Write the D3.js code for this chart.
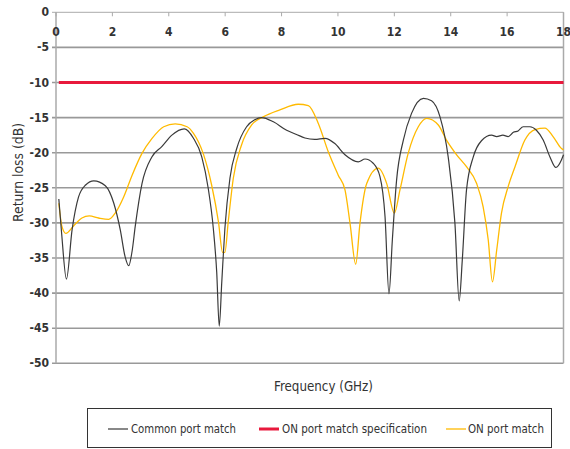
<!DOCTYPE html>
<html><head><meta charset="utf-8">
<script src="https://cdn.jsdelivr.net/npm/d3@7"></script>
<style>
body{margin:0;background:#fff;}
text{font-family:"Liberation Sans Narrow","DejaVu Sans Condensed",sans-serif;fill:#333;}
</style></head>
<body><svg id="c" width="570" height="449"></svg>
<script>
const xTicks = [0,2,4,6,8,10,12,14,16,18];
const yTicks = [0,-5,-10,-15,-20,-25,-30,-35,-40,-45,-50];
const specLevel = -10;
const commonFreq = [0.1,0.2,0.37,0.57,0.8,1.05,1.34,1.75,2.05,2.28,2.45,2.58,2.7,2.81,3.05,3.4,3.76,4.11,4.55,4.87,5.17,5.4,5.58,5.7,5.79,5.88,5.99,6.17,6.41,6.76,7.05,7.29,7.71,8.18,8.53,8.83,9.18,9.54,9.89,10.25,10.72,10.96,11.25,11.49,11.67,11.81,11.93,12.08,12.32,12.61,13.03,13.32,13.62,13.91,14.15,14.3,14.41,14.56,14.8,15.09,15.45,15.63,15.85,16.04,16.22,16.39,16.57,16.81,17.04,17.28,17.52,17.73,17.93,18.0];
const commonLoss = [-26.6,-31.5,-38.0,-31.0,-26.3,-24.6,-24.0,-24.7,-27.2,-31.0,-34.8,-36.1,-34.0,-30.5,-24.4,-20.6,-19.1,-17.5,-16.6,-17.9,-20.6,-25.1,-30.8,-37.0,-44.7,-38.4,-30.8,-23.6,-19.4,-16.3,-15.3,-15.0,-15.6,-16.8,-17.4,-17.9,-18.1,-17.95,-18.7,-20.3,-21.3,-20.9,-21.5,-23.4,-29.1,-40.1,-32.4,-23.9,-18.2,-14.4,-12.25,-12.6,-14.9,-20.6,-30.1,-41.1,-35.3,-25.3,-20.6,-18.3,-17.5,-17.7,-17.5,-17.7,-17.1,-16.9,-16.3,-16.3,-16.8,-18.2,-20.6,-22.1,-21.0,-20.3];
const onFreq = [0.1,0.21,0.35,0.63,0.92,1.18,1.51,1.87,2.1,2.4,2.7,3.05,3.4,3.82,4.23,4.65,4.87,5.22,5.52,5.76,5.91,5.99,6.11,6.29,6.58,6.94,7.35,7.94,8.59,8.95,9.3,9.66,10.01,10.25,10.43,10.63,10.78,11.02,11.43,11.73,12.0,12.2,12.49,12.85,13.15,13.56,13.85,14.21,14.56,14.92,15.15,15.33,15.48,15.63,15.8,16.04,16.28,16.63,16.99,17.34,17.63,17.93,18.0];
const onLoss = [-27.2,-30.5,-31.5,-30.4,-29.3,-29.0,-29.3,-29.5,-28.6,-26.3,-23.2,-20.1,-18.0,-16.3,-15.9,-16.3,-17.2,-20.1,-24.6,-29.8,-34.2,-34.2,-29.8,-23.6,-18.9,-16.05,-14.9,-13.9,-13.1,-13.3,-15.8,-19.9,-23.2,-25.3,-30.1,-35.9,-30.1,-24.4,-22.2,-24.4,-28.6,-25.3,-20.1,-16.3,-15.1,-16.05,-18.2,-20.3,-22.0,-24.4,-27.7,-32.4,-38.4,-33.9,-28.6,-24.8,-22.0,-18.2,-16.7,-16.5,-17.7,-19.4,-19.6];
const legendLabels = ["Common port match","ON port match specification","ON port match"];

const svg = d3.select("#c");
const L=56, R=563.5, T=12.3, B=363.3;
const x = d3.scaleLinear().domain([0,18]).range([L,R]);
const y = d3.scaleLinear().domain([0,-50]).range([T,B]);

svg.append("g").selectAll("line").data(yTicks).join("line")
  .attr("x1",L-4).attr("x2",R).attr("y1",d=>y(d)).attr("y2",d=>y(d))
  .attr("stroke",d=>d===0?"#aaa":"#999").attr("stroke-width",d=>d===0?1:1.6);
svg.append("line").attr("x1",L).attr("x2",L).attr("y1",T).attr("y2",B).attr("stroke","#aaa").attr("stroke-width",1.5);
svg.append("line").attr("x1",R).attr("x2",R).attr("y1",T).attr("y2",B).attr("stroke","#aaa").attr("stroke-width",1.5);
svg.append("g").selectAll("line").data(xTicks).join("line")
  .attr("x1",d=>x(d)).attr("x2",d=>x(d)).attr("y1",T).attr("y2",T+4)
  .attr("stroke","#aaa").attr("stroke-width",1);
svg.append("g").selectAll("text").data(xTicks).join("text")
  .attr("x",d=>x(d)).attr("y",T+24).attr("text-anchor","middle")
  .attr("font-size",12).attr("font-weight","bold").attr("fill","#333").text(d=>d);
svg.append("g").selectAll("text").data(yTicks).join("text")
  .attr("x",L-7).attr("y",d=>y(d)+4).attr("text-anchor","end")
  .attr("font-size",12).attr("font-weight","bold").text(d=>d);

const line = d3.line().x(d=>x(d[0])).y(d=>y(d[1])).curve(d3.curveMonotoneX);
svg.append("path").datum(onFreq.map((f,i)=>[f,onLoss[i]]))
  .attr("d",line).attr("fill","none").attr("stroke","#ffba00").attr("stroke-width",1.3);
svg.append("path").datum(commonFreq.map((f,i)=>[f,commonLoss[i]]))
  .attr("d",line).attr("fill","none").attr("stroke","#3a3a3a").attr("stroke-width",1.2);
svg.append("line").attr("x1",x(0.1)).attr("x2",R).attr("y1",y(specLevel)).attr("y2",y(specLevel))
  .attr("stroke","#e8193c").attr("stroke-width",3);

svg.append("text").attr("transform",`translate(23,172.5) rotate(-90)`)
  .attr("text-anchor","middle").attr("font-size",14)
  .attr("textLength",99).attr("lengthAdjust","spacingAndGlyphs").text("Return loss (dB)");
svg.append("text").attr("x",323.5).attr("y",391).attr("text-anchor","middle")
  .attr("font-size",14).attr("textLength",99).attr("lengthAdjust","spacingAndGlyphs").text("Frequency (GHz)");

svg.append("rect").attr("x",87.5).attr("y",408.5).attr("width",464).attr("height",39)
  .attr("fill","none").attr("stroke","#333").attr("stroke-width",1);
const legColors=["#3a3a3a","#e8193c","#ffba00"], legW=[1.2,3,1.3], legX=[108,259,446], legTx=[131,282,468], legLen=[105,145,76];
legendLabels.forEach((t,i)=>{
  svg.append("line").attr("x1",legX[i]).attr("x2",legX[i]+20).attr("y1",429).attr("y2",429)
    .attr("stroke",legColors[i]).attr("stroke-width",legW[i]);
  svg.append("text").attr("x",legTx[i]).attr("y",433).attr("font-size",12)
    .attr("textLength",legLen[i]).attr("lengthAdjust","spacingAndGlyphs").text(t);
});
</script></body></html>
